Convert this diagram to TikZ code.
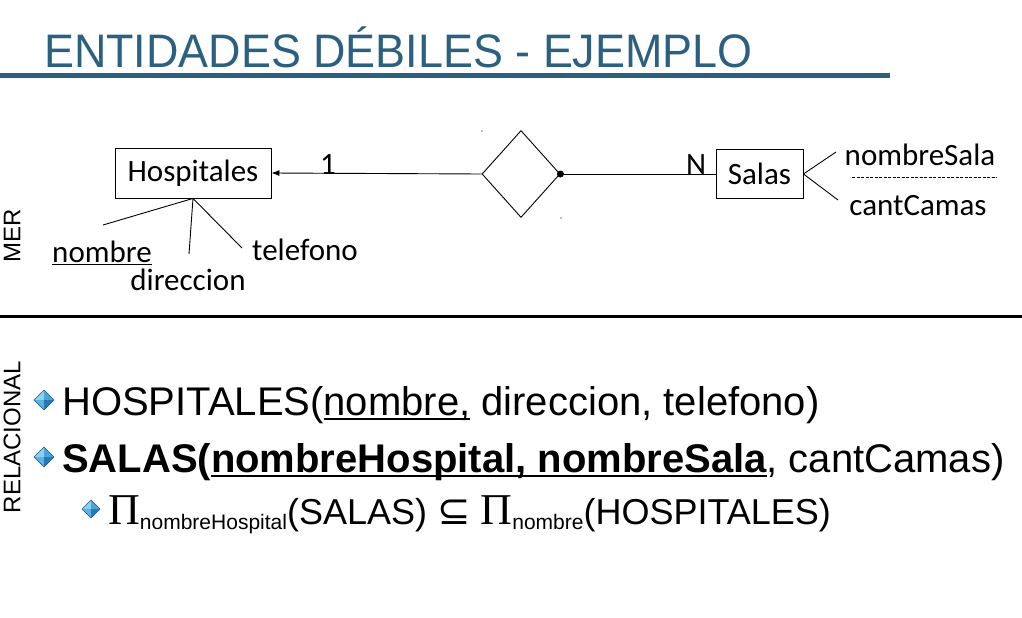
\documentclass[tikz,border=0pt]{standalone}
\usepackage{fontspec}
\setmainfont{Liberation Sans}
\newfontfamily\erfont{Carlito}
\newfontfamily\titlefont[FakeStretch=0.955]{Liberation Sans}
\newfontfamily\greekfont{Liberation Serif}
\newfontfamily\symbfont{DejaVu Sans}
\usetikzlibrary{shapes.geometric, arrows.meta}
\definecolor{titleblue}{RGB}{43,96,128}
\definecolor{bulNW}{RGB}{140,210,240}
\definecolor{bulNE}{RGB}{75,165,218}
\definecolor{bulSW}{RGB}{90,178,226}
\definecolor{bulSE}{RGB}{40,120,185}
% underline at a given drop and thickness
\newcommand{\keyul}[3]{\setbox0\hbox{#3}\rlap{\rule[-#1]{\wd0}{#2}}\box0\relax}
\begin{document}
\begin{tikzpicture}[
    x=1pt, y=-1pt,
    entity/.style={rectangle, draw, line width=0.9pt, inner sep=0pt, font=\erfont\fontsize{31}{31}\selectfont},
    relation/.style={diamond, draw, line width=0.9pt, inner sep=0pt, minimum width=78pt, minimum height=87pt},
    attr/.style={inner sep=0pt, font=\erfont\fontsize{31}{31}\selectfont},
    link/.style={line width=0.9pt},
    arrow/.style={-{Latex[length=8pt, width=6pt]}, line width=0.9pt},
    side/.style={rotate=90, inner sep=0pt, font=\fontsize{24}{24}\selectfont},
    item/.style={anchor=base west, inner sep=0pt, font=\fontsize{40}{40}\selectfont},
    subitem/.style={anchor=base west, inner sep=0pt, font=\fontsize{36}{36}\selectfont},
    bullet/.pic={
        \fill[bulNW] (0,0) -- (-10,0) -- (0,-10) -- cycle;
        \fill[bulNE] (0,0) -- (0,-10) -- (10,0) -- cycle;
        \fill[bulSW] (0,0) -- (-10,0) -- (0,10) -- cycle;
        \fill[bulSE] (0,0) -- (10,0) -- (0,10) -- cycle;
        \draw[bulSE!70!black, line width=0.4pt] (-10,0) -- (0,-10) -- (10,0) -- (0,10) -- cycle;
    }
]
    \useasboundingbox (0,0) rectangle (1022,618);

    % Title
    \node[anchor=base west, inner sep=0pt, text=titleblue, font=\titlefont\fontsize{47}{47}\selectfont] (title) at (44,67) {ENTIDADES DÉBILES - EJEMPLO};
    \draw[titleblue, line width=5pt] (0,75) -- (890,75);

    % Section labels
    \node[side] (mer) at (12,236) {MER};
    \draw[line width=3pt] (0,316) -- (1022,316);
    \node[side] (relac) at (12,437) {RELACIONAL};

    % Entities and relationship
    \node[entity, minimum width=156pt, minimum height=50pt] (hosp) at (193,173) {Hospitales};
    \node[relation] (rel) at (521,174) {};
    \node[entity, minimum width=87pt, minimum height=49pt] (salas) at (759.5,174) {Salas};

    \draw[arrow] (rel.west) -- (hosp.east);
    \draw[link] (rel.east) -- (salas.west);
    \fill (rel.east) circle (3.5pt);
    \node[attr] (one) at (328,165) {1};
    \node[attr] (many) at (696,165) {N};
    \fill[gray] (482,131) circle (0.8pt);
    \fill[gray] (561,218) circle (0.8pt);

    % Attributes of Hospitales
    \node[attr, anchor=base] (nombre) at (102,262) {\keyul{3pt}{1.5pt}{nombre}};
    \node[attr, anchor=base] (direccion) at (188,290) {direccion};
    \node[attr, anchor=base] (telefono) at (305,260) {telefono};
    \coordinate (c1) at (103,225);
    \coordinate (c2) at (189,254);
    \coordinate (c3) at (242,248);
    \draw[link] (hosp.south) -- (c1);
    \draw[link] (hosp.south) -- (c2);
    \draw[link] (hosp.south) -- (c3);

    % Attributes of Salas
    \node[attr] (nomsala) at (920,155) {nombreSala};
    \node[attr] (camas) at (918,206) {cantCamas};
    \coordinate (c4) at (836,152);
    \coordinate (c5) at (838,200);
    \draw[link] (salas.east) -- (c4);
    \draw[link] (salas.east) -- (c5);
    \draw[line width=0.8pt, dash pattern=on 3pt off 1.5pt] (852,177) -- (997,177);

    % Relational schema
    \pic (b1) at (44,400) {bullet};
    \pic (b2) at (44,457) {bullet};
    \pic[scale=0.9] (b3) at (91,509) {bullet};
    \node[item] (hosprel) at (62,415) {HOSPITALES(\keyul{5pt}{2pt}{nombre,} direccion, telefono)};
    \node[item] (salasrel) at (62,472) {\textbf{SALAS(\keyul{5pt}{2.5pt}{nombreHospital, nombreSala}}, cantCamas)};
    \node[subitem] (proj) at (108,524) {{\greekfont\fontsize{44}{44}\selectfont Π}\raisebox{-5pt}{\fontsize{21}{21}\selectfont nombreHospital}(SALAS) {\symbfont\fontsize{40}{40}\selectfont ⊆} {\greekfont\fontsize{44}{44}\selectfont Π}\raisebox{-5pt}{\fontsize{21}{21}\selectfont nombre}(HOSPITALES)};
\end{tikzpicture}
\end{document}
